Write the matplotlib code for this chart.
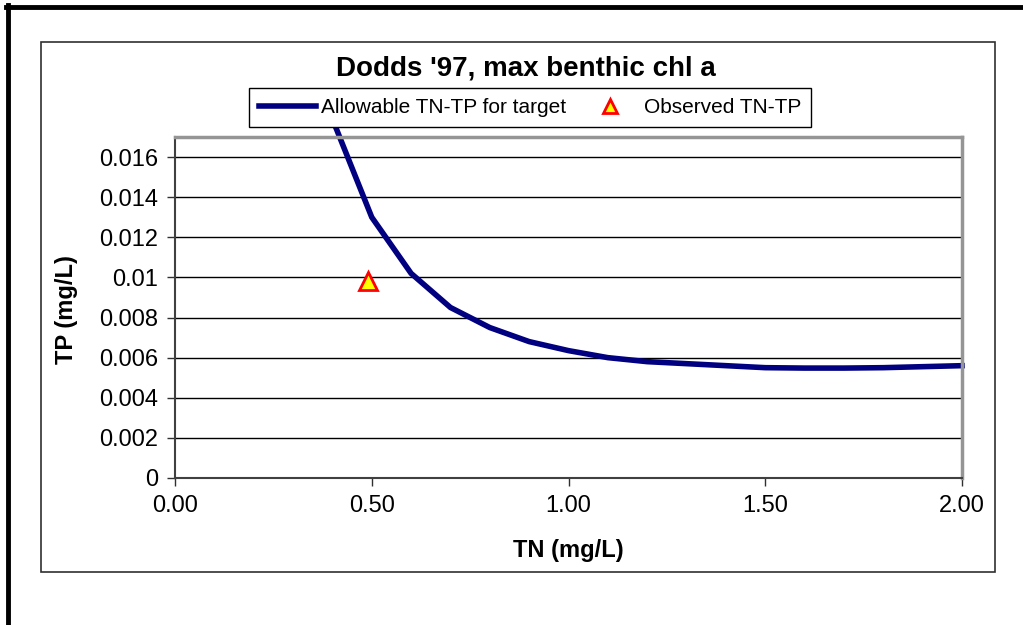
import matplotlib.pyplot as plt
from matplotlib.patches import Rectangle
from matplotlib.lines import Line2D

plt.rcParams['font.family'] = ['Liberation Sans', 'DejaVu Sans']

# allowable TN-TP curve for the benthic chl a target
tn = [0.4, 0.5, 0.6, 0.7, 0.8, 0.9, 1.0, 1.1, 1.2, 1.3, 1.4, 1.5, 1.6, 1.7, 1.8, 1.9, 2.0]
tp = [0.0179, 0.0130, 0.0102, 0.0085, 0.0075, 0.0068, 0.00635, 0.0060, 0.0058, 0.0057,
      0.0056, 0.0055, 0.00548, 0.00548, 0.0055, 0.00555, 0.0056]

# observed point
obs_tn = [0.49]
obs_tp = [0.0098]

xticks = [0.0, 0.5, 1.0, 1.5, 2.0]
xlabels = ["0.00", "0.50", "1.00", "1.50", "2.00"]
yticks = [0, 0.002, 0.004, 0.006, 0.008, 0.01, 0.012, 0.014, 0.016]
ylabels = ["0", "0.002", "0.004", "0.006", "0.008", "0.01", "0.012", "0.014", "0.016"]

W, H = 1023, 625
fig = plt.figure(figsize=(W / 100, H / 100), dpi=100)

# outer frame (thick, top + left) and chart area border
fig.add_artist(Line2D([6 / W, 1], [1 - 7 / H, 1 - 7 / H], color='black', lw=3.5))
fig.add_artist(Line2D([8 / W, 8 / W], [0, 1 - 5 / H], color='black', lw=3.5))
fig.add_artist(Rectangle((41 / W, 1 - 572 / H), (995 - 41) / W, (572 - 42) / H,
                         fill=False, edgecolor='#303030', lw=1.2))

ax = fig.add_axes([175 / W, 1 - 478 / H, (962 - 175) / W, (478 - 137) / H])

ax.plot(tn, tp, color='#000080', lw=4, clip_on=False, label="Allowable TN-TP for target",
        solid_joinstyle='miter')
ax.plot(obs_tn, obs_tp, linestyle='none', marker='^', markersize=13, markerfacecolor='#ffff00',
        markeredgecolor='#ff0000', markeredgewidth=2, label="Observed TN-TP", zorder=4)

ax.set_xlim(0, 2)
ax.set_ylim(0, 0.017)
ax.set_xticks(xticks)
ax.set_xticklabels(xlabels)
ax.set_yticks(yticks)
ax.set_yticklabels(ylabels)
ax.tick_params(direction='out', length=6, width=1, labelsize=17, pad=6, color='#303030')
ax.grid(axis='y', color='black', lw=1)
ax.set_axisbelow(True)

for s in ['left', 'bottom']:
    ax.spines[s].set_color('#404040')
    ax.spines[s].set_linewidth(1.5)
for s in ['top', 'right']:
    ax.spines[s].set_color('#959595')
    ax.spines[s].set_linewidth(2.5)

fig.text(526 / W, 1 - 68 / H, "Dodds '97, max benthic chl a", ha='center', va='center',
         fontsize=20, fontweight='bold')
fig.text(568 / W, 1 - 550 / H, "TN (mg/L)", ha='center', va='center', fontsize=17, fontweight='bold')
fig.text(67 / W, 1 - 310 / H, "TP (mg/L)", ha='center', va='center', fontsize=17,
         fontweight='bold', rotation=90)

leg = ax.legend(loc='center', bbox_to_anchor=(530 / W, 1 - 107.5 / H), bbox_transform=fig.transFigure,
                ncol=2, fontsize=15, frameon=True, fancybox=False, shadow=False, framealpha=1,
                edgecolor='black', handlelength=2.75, handletextpad=0.22, columnspacing=0.75,
                borderpad=0.48, borderaxespad=0, markerscale=0.75)
leg.get_frame().set_linewidth(1)
leg.set_zorder(10)

fig.savefig("out.png", dpi=100)
